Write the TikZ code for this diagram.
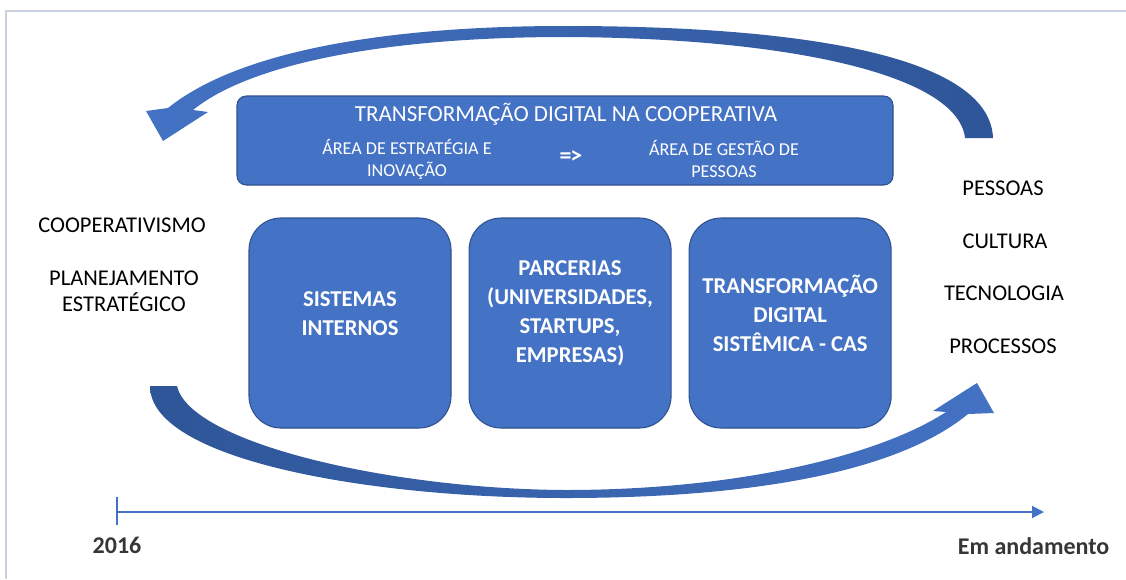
\documentclass[tikz,border=0pt]{standalone}
\usepackage{fontspec}
\setmainfont{Carlito}
\usetikzlibrary{arrows.meta}
\usetikzlibrary{positioning}

\definecolor{boxblue}{HTML}{4472C4}
\definecolor{boxedge}{HTML}{2F528F}
\definecolor{arrowdark}{HTML}{2E5597}
\definecolor{framegray}{HTML}{C9D1E1}
\definecolor{labelgray}{HTML}{363636}

\begin{document}
\begin{tikzpicture}[x=0.75pt, y=-0.75pt,
	block/.style={rectangle, rounded corners=24pt, draw=boxedge, fill=boxblue, line width=0.8pt, minimum width=151.5pt, minimum height=157.5pt},
	blocktext/.style={align=center, text=white, font=\fontsize{17}{21.8}\selectfont\bfseries},
	banner/.style={rectangle, rounded corners=7pt, draw=boxedge, fill=boxblue, line width=0.8pt, minimum width=492pt, minimum height=66.75pt},
	bannertext/.style={align=center, text=white, font=\fontsize{13.6}{16.5}\selectfont},
	sidetext/.style={align=center, font=\fontsize{16.9}{19.5}\selectfont},
	timeline/.style={draw=boxblue, line width=1.5pt},
	yearlabel/.style={text=labelgray, font=\fontsize{18}{21}\selectfont\bfseries}]
	\useasboundingbox (0,0) rectangle (1126,579);

	% --- Frame ---
	\draw[framegray, line width=1.2pt] (6,579) -- (6,11) -- (1126,11);

	% --- Cycle arrows ---

	% Upper arrow (right to left)
	\shade[left color=boxblue, right color=arrowdark]
		(993,138) -- (965,138)
		.. controls (958,75) and (790,38) .. (565,37)
		.. controls (400,37) and (255,60) .. (193,110)
		-- (208,112) -- (163,141) -- (146,111) -- (168,108)
		.. controls (240,50) and (390,26) .. (565,26)
		.. controls (820,26) and (990,60) .. (993,138) -- cycle;

	% Lower arrow (left to right)
	\shade[left color=arrowdark, right color=boxblue]
		(150,386) -- (177,386)
		.. controls (190,443) and (390,489) .. (565,490)
		.. controls (740,490) and (880,455) .. (946,412)
		-- (933,411) -- (977,383) -- (994,413) -- (968,414)
		.. controls (900,470) and (760,498) .. (565,498)
		.. controls (370,498) and (150,460) .. (150,386) -- cycle;

	% --- Top banner ---
	\node[banner] (tdc) at (565,140.5) {};
	\node[bannertext, font=\fontsize{17.25}{20}\selectfont] (tdctitle) at (566,114) {TRANSFORMAÇÃO DIGITAL NA COOPERATIVA};
	\node[bannertext] (estrategia) at (407,159) {ÁREA DE ESTRATÉGIA E\\INOVAÇÃO};
	\node[bannertext, font=\fontsize{18}{22}\selectfont\bfseries] (passa) at (571,157) {=\kern-1pt>};
	\node[bannertext] (gestao) at (724,159) {ÁREA DE GESTÃO DE\\PESSOAS};

	% --- Blocks ---

	% Sistemas internos
	\node[block] (sistemas) at (350,323) {};
	\node[blocktext] (sistemastext) at ([yshift=7pt]sistemas.center) {SISTEMAS\\INTERNOS};

	% Parcerias
	\node[block, right=12.75pt of sistemas] (parcerias) {};
	\node[blocktext] (parceriastext) at ([yshift=7pt]parcerias.center) {PARCERIAS\\(UNIVERSIDADES,\\STARTUPS,\\EMPRESAS)};

	% Transformacao sistemica
	\node[block, right=12.75pt of parcerias] (cas) {};
	\node[blocktext] (castext) at ([yshift=7pt]cas.center) {TRANSFORMAÇÃO\\DIGITAL\\SISTÊMICA - CAS};

	% --- Side texts ---
	\node[sidetext] (coop) at (122,225) {COOPERATIVISMO};
	\node[sidetext] (planej) at (124,291) {PLANEJAMENTO\\ESTRATÉGICO};

	\node[sidetext] (pessoas) at (1003,188) {PESSOAS};
	\node[sidetext] (cultura) at (1005,241) {CULTURA};
	\node[sidetext] (tecnologia) at (1004,293) {TECNOLOGIA};
	\node[sidetext] (processos) at (1003,346) {PROCESSOS};

	% --- Timeline ---
	\coordinate (tstart) at (117,512);
	\coordinate (tend) at (1044,512);
	\draw[timeline, -{Triangle[length=9pt, width=9pt]}] (tstart) -- (tend);
	\draw[timeline] ([yshift=11pt]tstart) -- ([yshift=-10pt]tstart);

	\node[yearlabel] (inicio) at (117,545) {2016};
	\node[yearlabel, anchor=east] (andamento) at (1114,546) {Em andamento};
\end{tikzpicture}
\end{document}
